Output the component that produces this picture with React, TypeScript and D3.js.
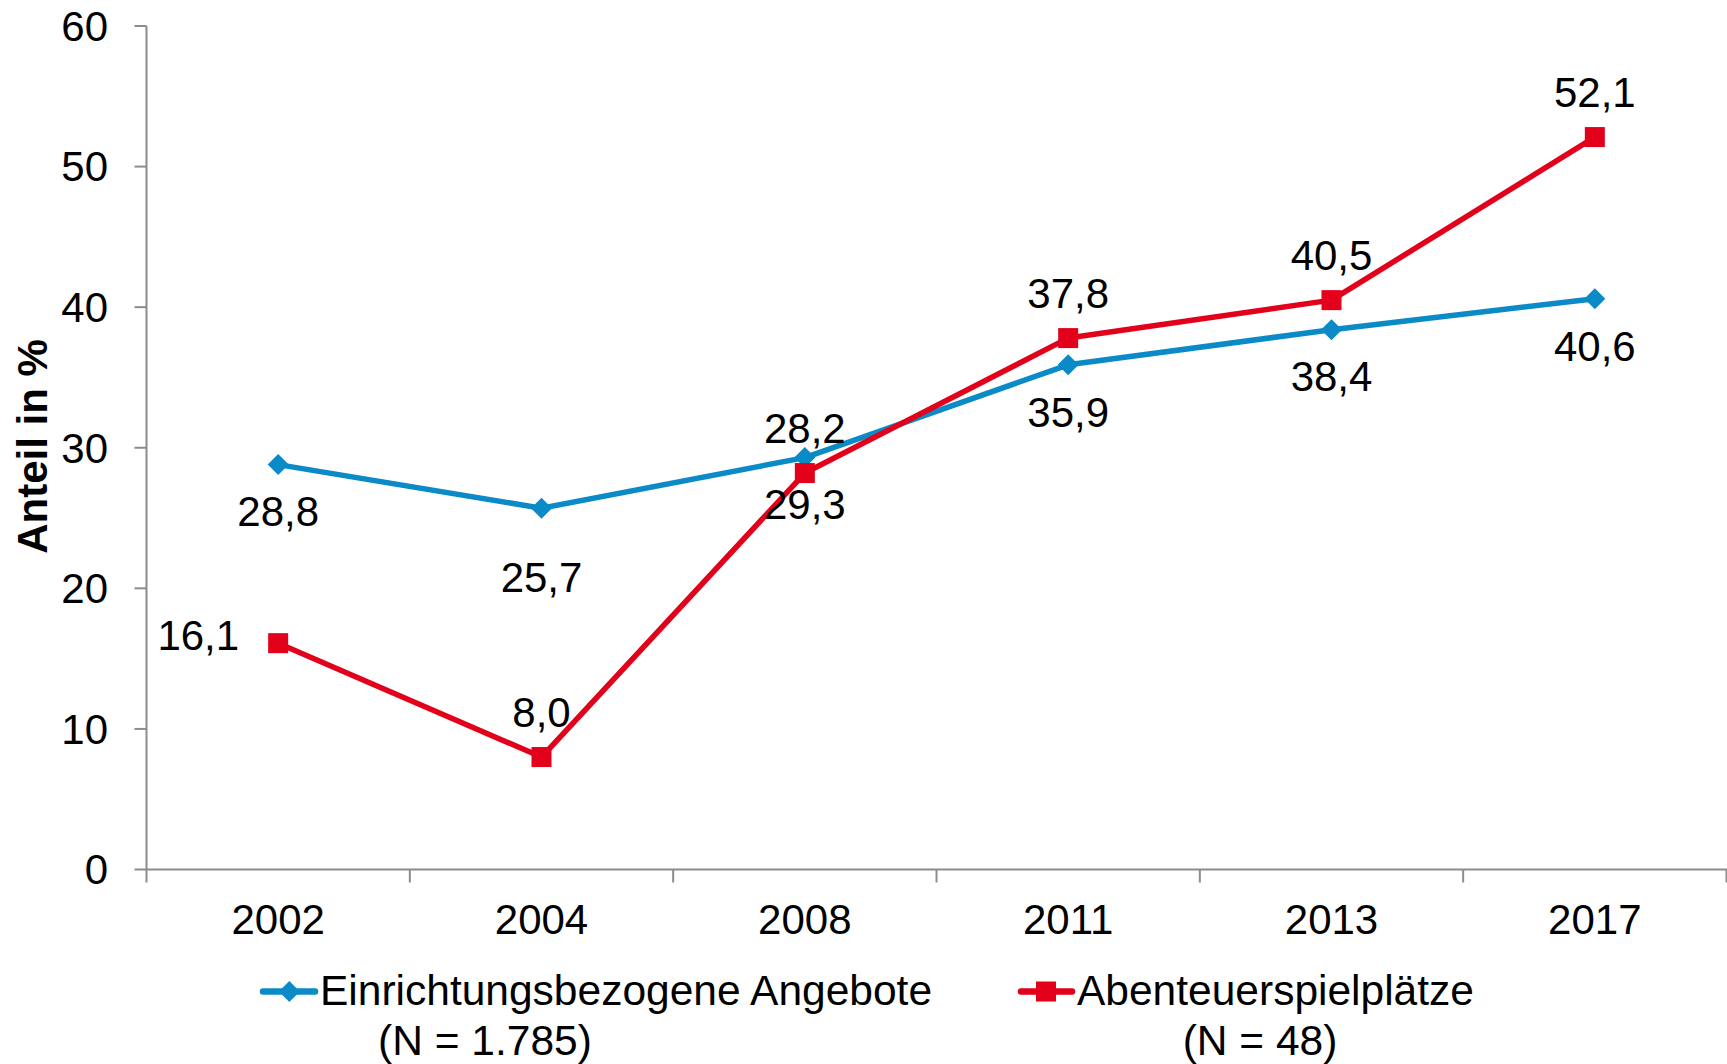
import React from "react";
import * as d3 from "d3";

const years = ["2002", "2004", "2008", "2011", "2013", "2017"];
const einrichtung = [28.8, 25.7, 29.3, 35.9, 38.4, 40.6];
const abenteuer = [16.1, 8.0, 28.2, 37.8, 40.5, 52.1];
const yTicks = [0, 10, 20, 30, 40, 50, 60];
const seriesNames = ["Einrichtungsbezogene Angebote", "Abenteuerspielplätze"];
const seriesN = ["(N = 1.785)", "(N = 48)"];

const W = 1727;
const H = 1064;
const BLUE = "#0a8ac6";
const RED = "#e2001a";
const AXIS = "#8c8c8c";
const FONT = "'Liberation Sans', Arial, sans-serif";
const FS = 42;
const LFS = 42.5;

const fmt = (v: number) => v.toFixed(1).replace(".", ",");

export default function App() {
  const x = d3.scaleBand<string>().domain(years).range([146.5, 1726.5]).padding(0);
  const y = d3.scaleLinear().domain([0, 60]).range([869.5, 26]);
  const cx = (yr: string) => (x(yr) as number) + x.bandwidth() / 2;

  const line = d3
    .line<number>()
    .x((_, i) => cx(years[i]))
    .y((d) => y(d));

  const diamond = (px: number, py: number, r: number) =>
    `M${px},${py - r}L${px + r},${py}L${px},${py + r}L${px - r},${py}Z`;

  const boundaries = [...years.map((yr) => x(yr) as number), x.range()[1]];

  return (
    <svg
      width={W}
      height={H}
      style={{ position: "absolute", left: 0, top: 0, background: "#fff" }}
      fontFamily={FONT}
    >
      {/* Y axis */}
      <line x1={146.5} x2={146.5} y1={y(60)} y2={y(0)} stroke={AXIS} strokeWidth={2} />
      {yTicks.map((t) => (
        <g key={t}>
          <line x1={134.5} x2={146.5} y1={y(t)} y2={y(t)} stroke={AXIS} strokeWidth={2} />
          <text x={108} y={y(t) + 14.8} textAnchor="end" fontSize={FS} fill="#000">
            {t}
          </text>
        </g>
      ))}
      {/* X axis */}
      <line x1={146.5} x2={W} y1={y(0)} y2={y(0)} stroke={AXIS} strokeWidth={2} />
      {boundaries.map((b, i) => (
        <line key={i} x1={b} x2={b} y1={y(0)} y2={y(0) + 13} stroke={AXIS} strokeWidth={2} />
      ))}
      {years.map((yr) => (
        <text key={yr} x={cx(yr)} y={934} textAnchor="middle" fontSize={FS} fill="#000">
          {yr}
        </text>
      ))}
      {/* Y title */}
      <text
        transform={`translate(47,446.5) rotate(-90)`}
        textAnchor="middle"
        fontSize={FS}
        fontWeight="bold"
        fill="#000"
      >
        Anteil in %
      </text>

      {/* Lines */}
      <path d={line(einrichtung) || ""} fill="none" stroke={BLUE} strokeWidth={5.5} strokeLinejoin="round" />
      <path d={line(abenteuer) || ""} fill="none" stroke={RED} strokeWidth={5.5} strokeLinejoin="round" />

      {/* Markers */}
      {einrichtung.map((v, i) => (
        <path key={"b" + i} d={diamond(cx(years[i]), y(v), 10.5)} fill={BLUE} />
      ))}
      {abenteuer.map((v, i) => (
        <rect key={"r" + i} x={cx(years[i]) - 10} y={y(v) - 10} width={20} height={20} fill={RED} />
      ))}

      {/* Labels blue (below) */}
      {einrichtung.map((v, i) => (
        <text
          key={"bl" + i}
          x={cx(years[i])}
          y={y(v) + (i === 1 ? 69 : 47) + 14.8}
          textAnchor="middle"
          fontSize={FS}
          fill="#000"
        >
          {fmt(v)}
        </text>
      ))}
      {/* Labels red (above) */}
      {abenteuer.map((v, i) =>
        i === 0 ? (
          <text
            key={"rl" + i}
            x={cx(years[i]) - 39}
            y={y(v) - 8 + 14.8}
            textAnchor="end"
            fontSize={FS}
            fill="#000"
          >
            {fmt(v)}
          </text>
        ) : (
          <text
            key={"rl" + i}
            x={cx(years[i])}
            y={y(v) - 45 + 14.8}
            textAnchor="middle"
            fontSize={FS}
            fill="#000"
          >
            {fmt(v)}
          </text>
        )
      )}

      {/* Legend */}
      <g>
        <line x1={263} x2={315} y1={991.5} y2={991.5} stroke={BLUE} strokeWidth={6.5} strokeLinecap="round" />
        <path d={diamond(289.3, 991.5, 10.5)} fill={BLUE} />
        <text x={320} y={1005} fontSize={LFS} fill="#000">
          {seriesNames[0]}
        </text>
        <text x={485} y={1055} fontSize={LFS} textAnchor="middle" fill="#000">
          {seriesN[0]}
        </text>

        <line x1={1021} x2={1072} y1={991.5} y2={991.5} stroke={RED} strokeWidth={6.5} strokeLinecap="round" />
        <rect x={1036} y={981.5} width={20} height={20} fill={RED} />
        <text x={1077} y={1005} fontSize={LFS} fill="#000">
          {seriesNames[1]}
        </text>
        <text x={1260} y={1055} fontSize={LFS} textAnchor="middle" fill="#000">
          {seriesN[1]}
        </text>
      </g>
    </svg>
  );
}
